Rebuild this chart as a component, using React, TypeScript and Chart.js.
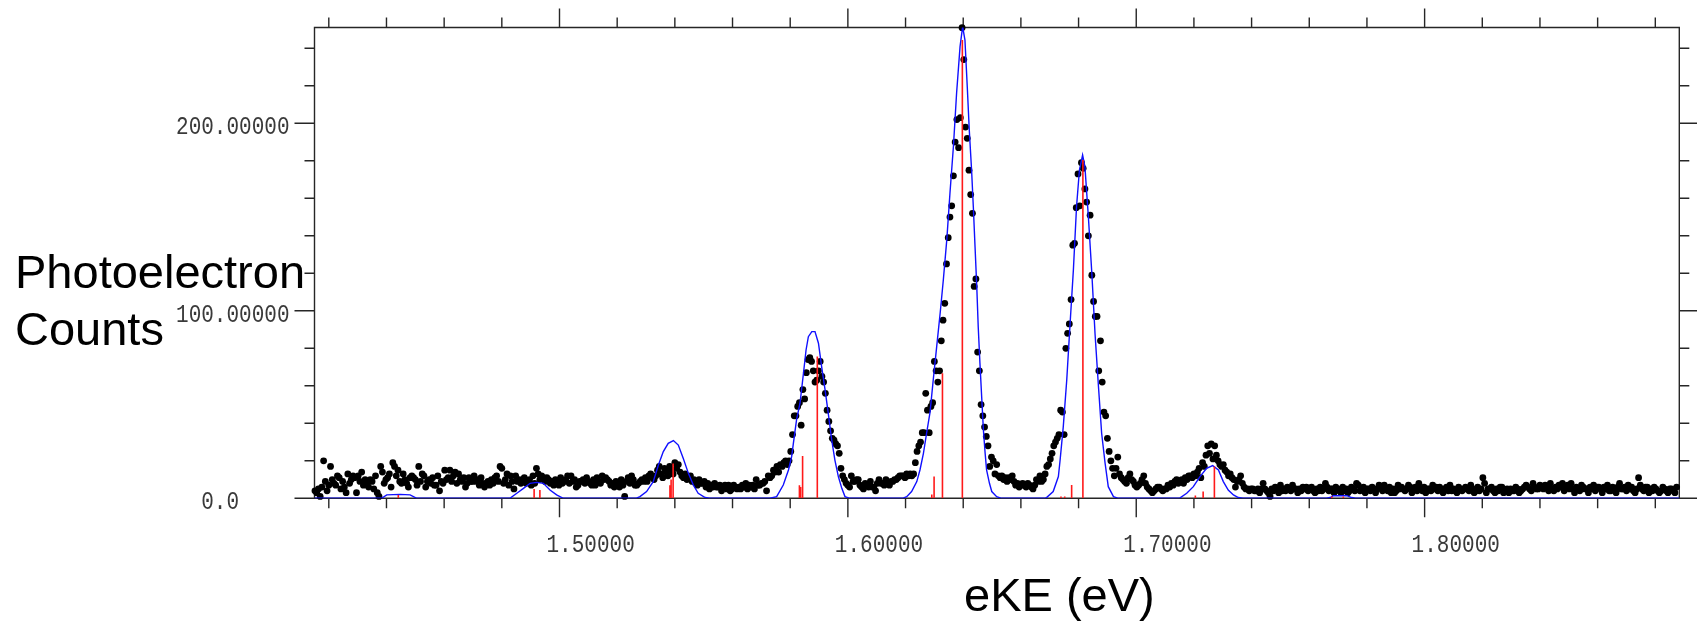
import React, { useEffect, useRef } from "react";
import { Chart, registerables } from "chart.js";

Chart.register(...registerables);

// ---------- data ----------
const EKE_START = 1.4152; // eV, first measured bin
const EKE_STEP = 0.0006; // eV per bin

const COUNTS = [
  // 1.415 - 1.569 eV
  4, 3, 5, 1, 6, 20, 9,
  4, 7, 17, 10, 8, 7, 12,
  11, 5, 9, 6, 3, 13, 8,
  10, 12, 11, 3, 12, 9, 14,
  7, 10, 8, 6, 10, 9, 5,
  12, 3, 1, 17, 14, 8, 10,
  11, 13, 6, 19, 17, 12, 15,
  9, 8, 13, 10, 8, 6, 11,
  12, 11, 10, 7, 17, 9, 13,
  12, 6, 9, 10, 8, 11, 7,
  7, 12, 4, 9, 8, 15, 10,
  11, 15, 9, 12, 14, 8, 13,
  10, 9, 11, 6, 8, 11, 9,
  9, 12, 9, 10, 7, 11, 8,
  6, 8, 9, 7, 10, 8, 11,
  12, 9, 17, 16, 8, 10, 13,
  7, 12, 9, 5, 12, 9, 10,
  8, 10, 11, 8, 9, 10, 7,
  12, 8, 16, 13, 10, 12, 11,
  9, 11, 10, 8, 9, 7, 10,
  9, 7, 11, 8, 9, 10, 12,
  8, 12, 9, 10, 6, 7, 9,
  9, 10, 8, 11, 9, 8, 7,
  10, 7, 11, 9, 8, 12, 10,
  11, 10, 9, 7, 8, 6, 9,
  8, 6, 10, 7, 1, 9, 11,
  8, 12, 10, 7, 7, 8, 9,
  10, 9, 11, 9, 12, 13, 11,
  10, 12, 15, 17, 13, 11, 16,
  14, 12, 17, 15, 13, 19, 16,
  18, 14, 12, 11, 13, 10, 11,
  12, 9, 10, 8, 7, 10, 8,
  8, 9, 6, 8, 5, 7, 6,
  8, 6, 6, 7, 4, 6, 7,
  5, 7, 4, 5, 7, 6, 5,
  6, 5, 7, 6, 8, 5, 7,
  6, 7, 5, 10, 7,
  // 1.569 - 1.746 eV (peaks)
  7, 8, 8, 9, 4, 12, 11, 12, 15, 14,
  17, 14, 18, 17, 19, 20, 18, 20, 25, 34,
  44, 44, 49, 51, 39, 58, 53, 67, 74, 75,
  73, 68, 62, 63, 68, 73, 65, 62, 56, 47,
  41, 36, 32, 31, 29, 28, 24, 16, 12, 10,
  8, 7, 6, 12, 9, 9, 10, 10, 7, 6,
  5, 8, 7, 6, 9, 6, 6, 4, 8, 10,
  8, 8, 7, 10, 8, 7, 9, 9, 10, 10,
  11, 12, 12, 12, 11, 13, 12, 13, 12, 13,
  19, 25, 28, 30, 35, 35, 56, 47, 35, 49,
  51, 73, 68, 62, 68, 84, 95, 104, 125, 139,
  150, 156, 172, 190, 202, 187, 203, 251, 234, 198,
  192, 175, 162, 152, 113, 117, 78, 68, 50, 44,
  38, 33, 28, 17, 22, 20, 13, 18, 12, 11,
  12, 10, 11, 9, 11, 10, 12, 9, 7, 8,
  6, 7, 8, 7, 6, 8, 7, 6, 5, 7,
  10, 9, 12, 9, 10, 13, 17, 18, 21, 24,
  28, 30, 32, 34, 47, 46, 34, 80, 88, 93,
  106, 135, 136, 155, 173, 156, 179, 176, 165, 158,
  140, 151, 119, 105, 97, 97, 68, 84, 62, 46,
  44, 32, 25, 20, 16, 12, 16, 22, 13, 11,
  10, 9, 8, 11, 13, 10, 9, 7, 6, 7,
  8, 10, 12, 8, 6, 5, 4, 3, 4, 5,
  6, 6, 5, 4, 5, 5, 7, 6, 8, 7,
  9, 10, 8, 9, 10, 8, 11, 10, 12, 12,
  11, 13, 12, 14, 16, 11, 19, 17, 23, 28,
  24, 29, 21, 28, 23, 20, 18, 17, 18, 15,
  14, 12, 13, 11, 10, 6, 9, 10, 12, 8,
  6, 5, 5, 4, 5, 5, 4, 4, 5, 3,
  5, 8, 5, 4, 3, 1,
  // 1.747 - 1.888 eV
  5, 4, 6, 5, 3, 7, 4,
  5, 4, 6, 5, 4, 7, 5,
  5, 3, 5, 4, 6, 5, 6,
  4, 5, 6, 4, 3, 5, 4,
  6, 4, 5, 8, 6, 4, 5,
  5, 3, 6, 5, 4, 3, 6,
  4, 5, 3, 4, 6, 5, 4,
  8, 7, 4, 5, 6, 3, 5,
  5, 4, 6, 5, 3, 5, 7,
  6, 4, 7, 5, 4, 6, 3,
  5, 3, 4, 7, 5, 6, 5,
  4, 5, 7, 6, 3, 5, 6,
  4, 8, 5, 4, 6, 3, 5,
  5, 4, 7, 5, 6, 4, 6,
  5, 3, 5, 6, 4, 7, 4,
  5, 4, 3, 6, 5, 4, 5,
  6, 5, 4, 7, 5, 3, 4,
  6, 4, 5, 11, 8, 3, 5,
  5, 6, 4, 3, 5, 4, 6,
  6, 3, 4, 5, 3, 5, 4,
  4, 6, 5, 3, 4, 5, 6,
  7, 6, 5, 4, 8, 6, 5,
  5, 7, 6, 5, 7, 6, 4,
  8, 5, 4, 6, 5, 7, 6,
  8, 4, 6, 7, 5, 8, 5,
  3, 6, 5, 4, 7, 6, 5,
  5, 3, 6, 5, 7, 4, 6,
  6, 5, 3, 6, 5, 7, 4,
  4, 6, 5, 3, 6, 8, 5,
  5, 6, 4, 7, 5, 6, 4,
  3, 5, 11, 7, 5, 4, 6,
  6, 3, 5, 4, 6, 5, 4,
  3, 4, 6, 5, 4, 3, 5,
  5, 4, 3, 6,
];

// fitted (simulated) envelope, blue
const FIT_EKE = [
  1.415, 1.4383, 1.4401, 1.4447, 1.4482, 1.4505,
  1.4828, 1.4852, 1.4875, 1.4898, 1.4921, 1.4944, 1.4967, 1.499, 1.5013,
  1.5265, 1.5279, 1.5302, 1.5325, 1.5343, 1.536, 1.5377, 1.5395, 1.5412, 1.5429, 1.5447, 1.5464, 1.5481, 1.5505, 1.552,
  1.573, 1.5753, 1.5776, 1.5794, 1.5805, 1.5811, 1.5822, 1.5834, 1.5846, 1.5855, 1.5863, 1.5875, 1.5886, 1.5898, 1.5909, 1.5921, 1.5932, 1.5944, 1.5955, 1.5967, 1.5979, 1.599, 1.6007,
  1.619, 1.6204, 1.6221, 1.6239, 1.625, 1.6262, 1.6273, 1.6285, 1.6296, 1.6308, 1.632, 1.6331, 1.6343, 1.6354, 1.6366, 1.6377, 1.6389, 1.6398, 1.6406, 1.6414, 1.6421, 1.6429, 1.6435, 1.6441, 1.6447, 1.6452, 1.6458, 1.6464, 1.647, 1.6476, 1.6481, 1.6491, 1.6499, 1.6516, 1.6533,
  1.668, 1.6689, 1.6712, 1.673, 1.6736, 1.6747, 1.6759, 1.677, 1.6782, 1.6793, 1.6803, 1.6814, 1.6822, 1.6834, 1.6846, 1.6857, 1.6869, 1.688, 1.6892, 1.6903, 1.6921, 1.6938,
  1.7145, 1.7152, 1.7175, 1.7198, 1.7221, 1.7244, 1.7265, 1.7285, 1.7302, 1.7319, 1.7337, 1.7354, 1.737,
  1.766, 1.7672, 1.7684, 1.773, 1.7747, 1.776,
  1.8885,
];
const FIT_COUNTS = [
  0, 0, 1.8, 2.1, 1.8, 0,
  0, 2.7, 5.3, 8.0, 8.5, 8.0, 4.4, 1.8, 0,
  0, 0.9, 3.6, 8.9, 17.8, 24.9, 29.3, 30.8, 28.4, 21.3, 13.3, 7.1, 2.7, 0.4, 0,
  0, 0.9, 7.1, 15.1, 22.2, 29.3, 41.8, 50.7, 66.7, 79.1, 86.2, 88.9, 88.9, 82.7, 70.2, 57.8, 45.3, 31.1, 20.4, 11.6, 5.3, 0.9, 0,
  0, 0.9, 3.6, 8.9, 15.1, 24.0, 34.7, 46.0, 63.1, 80.9, 98.7, 116.4, 137.8, 162.7, 187.6, 216.0, 240.9, 251.6, 244.4, 219.6, 196.4, 175.1, 155.6, 134.2, 112.9, 91.6, 72.0, 54.2, 36.4, 24.0, 15.1, 8.0, 3.6, 0.9, 0,
  0, 0.4, 3.6, 11.6, 20.4, 38.2, 63.1, 91.6, 121.8, 155.6, 175.1, 183.1, 176.9, 150.2, 120.0, 88.0, 59.6, 34.7, 18.7, 6.2, 0.9, 0,
  0, 0.2, 2.7, 6.2, 11.6, 16.0, 17.4, 15.1, 8.9, 4.4, 1.8, 0.4, 0,
  0, 0.4, 1.4, 1.4, 0.4, 0,
  0,
];

// stick spectrum, red
const STICK_EKE = [
  1.4441, 1.4912, 1.4932, 1.5383, 1.5387, 1.5394, 1.5832, 1.5836, 1.5843, 1.5894,
  1.6291, 1.6299, 1.6328, 1.6397, 1.6739, 1.6752, 1.6776, 1.6815, 1.7205, 1.7232,
  1.7271, 1.7678, 1.7718,
];
const STICK_HEIGHT = [
  1.8, 5.0, 4.4, 7.0, 10.0, 18.5, 7.0, 6.0, 22.6, 75.6,
  2.0, 11.6, 66.7, 244.4, 1.0, 1.0, 7.1, 180.4, 1.5, 3.6,
  16.9, 1.0, 1.0,
];

// axes
const X_MIN = 1.41504;
const X_MAX = 1.88832;
const Y_MIN = 0;
const Y_MAX = 251.1;
const X_MINOR_TICKS = [1.42, 1.44, 1.46, 1.48, 1.52, 1.54, 1.56, 1.58, 1.62, 1.64, 1.66, 1.68, 1.72, 1.74, 1.76, 1.78, 1.82, 1.84, 1.86, 1.88];
const X_MAJOR_TICKS = [1.5, 1.6, 1.7, 1.8];
const X_TICK_LABELS = ["1.50000", "1.60000", "1.70000", "1.80000"];
const Y_MINOR_TICKS = [20, 40, 60, 80, 120, 140, 160, 180, 220, 240];
const Y_MAJOR_TICKS = [0, 100, 200];
const Y_TICK_LABELS = ["0.0", "100.00000", "200.00000"];
const Y_TITLE_LINES = ["Photoelectron", "Counts"];
const X_TITLE = "eKE (eV)";

// ---------- drawing helpers ----------
const W = 1697;
const H = 622;
const LABEL_FONT = '26px "Liberation Mono", "DejaVu Sans Mono", monospace';
const LABEL_SX = 0.808;
const TITLE_FONT = '47px "Liberation Sans", Arial, sans-serif';

function drawSqueezed(ctx: CanvasRenderingContext2D, text: string, left: number, baseline: number) {
  ctx.save();
  ctx.translate(left, baseline);
  ctx.scale(LABEL_SX, 1);
  ctx.textAlign = "left";
  ctx.textBaseline = "alphabetic";
  ctx.fillText(text, 0, 0);
  ctx.restore();
}

const axesPlugin = {
  id: "pesAxes",
  beforeDatasetsDraw(chart: any) {
    const { ctx, chartArea: a, scales } = chart;
    const xs = scales.x;
    const ys = scales.y;
    ctx.save();
    ctx.strokeStyle = "#262626";
    ctx.lineWidth = 1.4;
    ctx.beginPath();
    ctx.moveTo(a.left, a.bottom);
    ctx.lineTo(a.left, a.top);
    ctx.lineTo(a.right, a.top);
    ctx.lineTo(a.right, a.bottom);
    ctx.lineTo(a.left, a.bottom);
    const xTick = (v: number, len: number) => {
      const px = xs.getPixelForValue(v);
      ctx.moveTo(px, a.top);
      ctx.lineTo(px, a.top - len);
      ctx.moveTo(px, a.bottom);
      ctx.lineTo(px, a.bottom + len);
    };
    const yTick = (v: number, len: number) => {
      const py = ys.getPixelForValue(v);
      ctx.moveTo(a.left, py);
      ctx.lineTo(a.left - len, py);
      ctx.moveTo(a.right, py);
      ctx.lineTo(a.right + len, py);
    };
    X_MINOR_TICKS.forEach((v) => xTick(v, 10));
    X_MAJOR_TICKS.forEach((v) => xTick(v, 19));
    Y_MINOR_TICKS.forEach((v) => yTick(v, 10));
    Y_MAJOR_TICKS.forEach((v) => yTick(v, 20));
    ctx.stroke();
    ctx.restore();
  },
  afterDraw(chart: any) {
    const { ctx, chartArea: a, scales } = chart;
    const xs = scales.x;
    const ys = scales.y;
    ctx.save();
    ctx.fillStyle = "#3a3a3a";
    ctx.font = LABEL_FONT;
    const pitch = ctx.measureText("0").width * LABEL_SX;
    Y_MAJOR_TICKS.forEach((v, k) => {
      const label = Y_TICK_LABELS[k];
      const w = ctx.measureText(label).width * LABEL_SX;
      const shift = label.length < 9 ? 4 * pitch : 0;
      const right = a.left - 25 - shift;
      drawSqueezed(ctx, label, right - w, ys.getPixelForValue(v) + 11);
    });
    X_MAJOR_TICKS.forEach((v, k) => {
      const px = xs.getPixelForValue(v);
      drawSqueezed(ctx, X_TICK_LABELS[k], px - 13, a.bottom + 54);
    });
    ctx.fillStyle = "#000000";
    ctx.font = TITLE_FONT;
    ctx.textAlign = "left";
    ctx.textBaseline = "alphabetic";
    ctx.fillText(Y_TITLE_LINES[0], 15, 288);
    ctx.fillText(Y_TITLE_LINES[1], 15, 345);
    ctx.fillText(X_TITLE, 964, 611);
    ctx.restore();
  },
};

export default function App() {
  const canvasRef = useRef<HTMLCanvasElement | null>(null);

  useEffect(() => {
    const canvas = canvasRef.current;
    if (!canvas) return;

    const dots = COUNTS.map((c, i) => ({ x: EKE_START + i * EKE_STEP, y: c }));
    const fit = FIT_EKE.map((e, i) => ({ x: e, y: FIT_COUNTS[i] }));
    const sticks: { x: number; y: number | null }[] = [];
    STICK_EKE.forEach((e, i) => {
      sticks.push({ x: e, y: 0 });
      sticks.push({ x: e, y: STICK_HEIGHT[i] });
      sticks.push({ x: e, y: null });
    });

    const chart = new Chart(canvas, {
      type: "scatter",
      data: {
        datasets: [
          {
            type: "line",
            label: "sticks",
            data: sticks as any,
            borderColor: "#ff1a1a",
            borderWidth: 1.6,
            pointRadius: 0,
            spanGaps: false,
            tension: 0,
            order: 0,
          },
          {
            type: "line",
            label: "fit",
            data: fit,
            borderColor: "#1010ff",
            borderWidth: 1.4,
            pointRadius: 0,
            tension: 0,
            order: 1,
          },
          {
            type: "scatter",
            label: "data",
            data: dots,
            backgroundColor: "#000000",
            borderWidth: 0,
            pointRadius: 3.4,
            clip: false as any,
            order: 2,
          },
        ],
      },
      options: {
        animation: false,
        responsive: false,
        devicePixelRatio: 1,
        events: [],
        layout: { padding: { left: 314.5, right: W - 1679.3, top: 27.5, bottom: H - 498.3 } },
        plugins: { legend: { display: false }, tooltip: { enabled: false } },
        scales: {
          x: { type: "linear", min: X_MIN, max: X_MAX, display: false },
          y: { type: "linear", min: Y_MIN, max: Y_MAX, display: false },
        },
      },
      plugins: [axesPlugin],
    });
    return () => chart.destroy();
  }, []);

  return (
    <div style={{ position: "absolute", left: 0, top: 0, width: W, height: H, background: "#ffffff" }}>
      <canvas ref={canvasRef} width={W} height={H} style={{ display: "block", width: W, height: H }} />
    </div>
  );
}
